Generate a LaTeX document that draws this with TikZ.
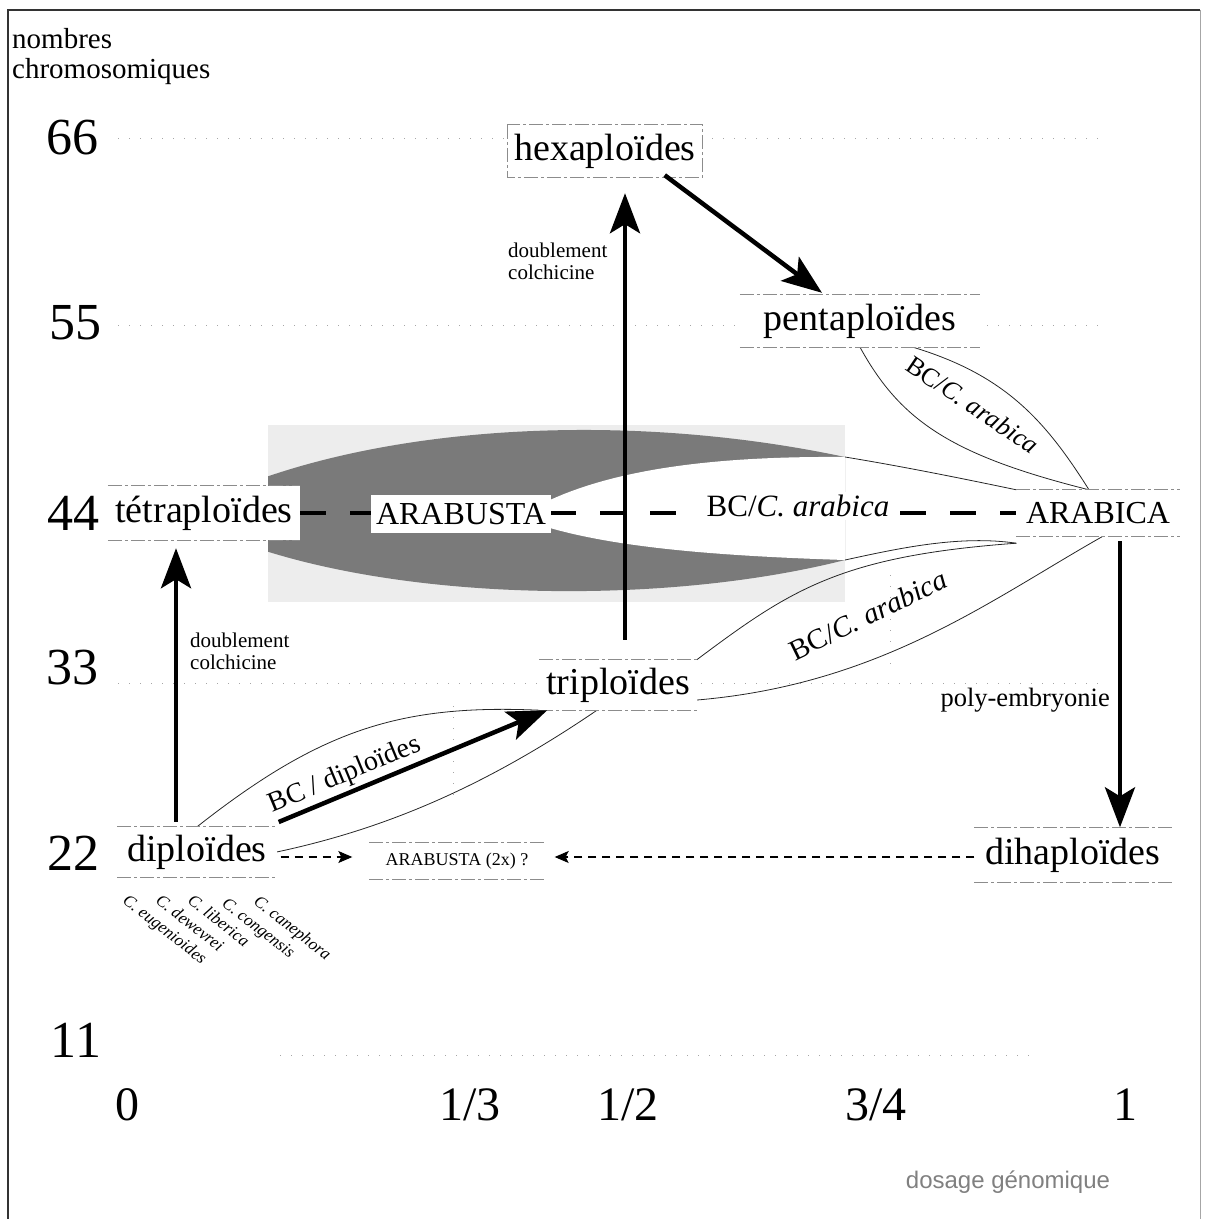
\documentclass[tikz,border=0pt]{standalone}
\usepackage{fontspec}
\setmainfont{Liberation Serif}
\newfontfamily\captionsans{Liberation Sans}
\usetikzlibrary{arrows.meta,backgrounds}
\begin{document}
\begin{tikzpicture}[x=1pt,y=-1pt,
  axisnum/.style={font=\fontsize{52}{58}\selectfont, inner sep=0pt},
  dosenum/.style={font=\fontsize{48}{54}\selectfont, inner sep=0pt},
  stagefont/.style={font=\fontsize{38}{44}\selectfont},
  capsfont/.style={font=\fontsize{32}{38}\selectfont},
  stagebox/.style={fill=white, inner sep=0pt},
  boxline/.style={draw=black!45, line width=0.8pt, dash pattern=on 14pt off 3pt on 3pt off 3pt},
  note/.style={font=\fontsize{21}{22}\selectfont, align=left, inner sep=0pt},
  species/.style={font=\fontsize{17}{18}\selectfont\itshape, inner sep=0pt, anchor=north west, rotate=-38},
  bigarrow/.style={line width=4.5pt, -{Stealth[length=40pt,width=30pt,inset=9pt]}},
  thinarrow/.style={line width=1.1pt, dash pattern=on 8pt off 6pt, -{Stealth[length=14pt,width=12pt,inset=3pt]}},
  lensline/.style={line width=0.8pt, black!85},
  gridline/.style={black!35, line width=0.9pt, dash pattern=on 1pt off 10pt},
  frameline/.style={black!80, line width=1.3pt},
]
\useasboundingbox (0,0) rectangle (1205,1219);

% outer frame
\draw[frameline] (8,1219) -- (8,10) -- (1200,10);
\draw[black!35, line width=0.8pt] (1200,10) -- (1200,1219);

% axis titles
\node[font=\fontsize{29}{30}\selectfont, align=left, anchor=north west, inner sep=0pt] (ytitle) at (12,28) {nombres\\chromosomiques};
\node[font={\captionsans\fontsize{24}{26}\selectfont}, text=black!50] (xtitle) at (1008,1182) {dosage génomique};

% chromosome numbers
\node[axisnum] (y66) at (72,138) {66};
\node[axisnum] (y55) at (75,323) {55};
\node[axisnum] (y44) at (73,513) {44};
\node[axisnum] (y33) at (72,668) {33};
\node[axisnum] (y22) at (73,853) {22};
\node[axisnum] (y11) at (76,1040) {11};

% genomic dosage
\node[dosenum] (x0) at (127,1105) {0};
\node[dosenum] (x13) at (470,1105) {1/3};
\node[dosenum] (x12) at (628,1105) {1/2};
\node[dosenum] (x34) at (876,1105) {3/4};
\node[dosenum] (x1) at (1125,1105) {1};

% ploidy levels
\node[stagebox, stagefont, minimum width=195pt, minimum height=52pt] (hexa) at (605,151) {hexaploïdes};
\node[stagebox, stagefont, minimum width=240pt, minimum height=52pt] (penta) at (860,321) {pentaploïdes};
\node[stagebox, stagefont, minimum width=192pt, minimum height=54pt] (tetra) at (204,513) {tétraploïdes};
\node[stagebox, capsfont, minimum width=180pt, minimum height=38pt] (arabusta) at (461,514) {ARABUSTA};
\node[stagebox, capsfont, minimum width=163pt, minimum height=46pt] (arabica) at (1098,513) {ARABICA};
\node[stagebox, stagefont, minimum width=157pt, minimum height=50pt] (tri) at (618,685) {triploïdes};
\node[stagebox, stagefont, minimum width=159pt, minimum height=50pt] (di) at (197,852) {diploïdes};
\node[stagebox, font=\fontsize{18}{20}\selectfont, minimum width=175pt, minimum height=37pt] (arab2x) at (457,861) {ARABUSTA (2x) ?};
\node[stagebox, stagefont, minimum width=197pt, minimum height=55pt] (dihap) at (1073,855) {dihaploïdes};
\node[fill=white, inner xsep=9pt, inner ysep=3pt, font=\fontsize{31}{34}\selectfont] (bcmid) at (798,506) {BC/\textit{C. arabica}};

% box edges
\foreach \n in {penta,tetra,arabica,tri,di,arab2x,dihap}
  \draw[boxline] (\n.north west) -- (\n.north east) (\n.south west) -- (\n.south east);
\draw[boxline] (hexa.north west) rectangle (hexa.south east);

% diploid species
\node[species] (sp1) at (129,893) {C. eugenioides};
\node[species] (sp2) at (162,893) {C. dewevrei};
\node[species] (sp3) at (194,893) {C. liberica};
\node[species] (sp4) at (228,896) {C. congensis};
\node[species] (sp5) at (260,894) {C. canephora};

% process labels
\node[note, anchor=west] (dc1) at (190,651) {doublement\\colchicine};
\node[note, anchor=west] (dc2) at (508,261) {doublement\\colchicine};
\node[font=\fontsize{26.5}{28}\selectfont, inner sep=0pt, anchor=east] (poly) at (1110,700) {poly-embryonie};
\node[font=\fontsize{26}{28}\selectfont, inner sep=1pt, rotate=-34] (bcpenta) at (973,405) {BC/\textit{C. arabica}};
\node[font=\fontsize{29}{32}\selectfont, inner sep=1pt, rotate=26] (bctri) at (868,615) {BC/\textit{C. arabica}};
\node[font=\fontsize{28}{32}\selectfont, inner sep=1pt, rotate=22.5] (bcdi) at (345,775) {BC / diploïdes};

\begin{pgfonlayer}{background}
  % dotted reference grid
  \foreach \yy in {138,325,683} \draw[gridline] (118,\yy) -- (1100,\yy);
  \draw[gridline] (280,1055) -- (1030,1055);
  \draw[gridline] (453,706) -- (453,800);
  \draw[gridline] (890,575) -- (890,668);

  % backcross field between tetraploids and ARABICA
  \fill[black!7] (268,425) rectangle (845,602);
  \begin{scope}
    \clip (268,425) rectangle (845,602);
    \fill[black!52] (180,515) .. controls (330,430) and (600,405) .. (845,457)
      -- (845,560) .. controls (640,612) and (330,600) .. (180,515) -- cycle;
    \fill[white] (550,500) .. controls (620,468) and (720,456) .. (845,457)
      -- (845,560) .. controls (720,556) and (620,548) .. (550,528) -- cycle;
  \end{scope}
  \draw[lensline] (845,457) .. controls (900,466) and (960,478) .. (arabica.north west);
  \draw[lensline] (845,560) .. controls (900,548) and (960,535) .. ([yshift=-7pt]arabica.south west);

  % backcross lenses
  \draw[lensline] (penta.south) .. controls (900,420) and (950,455) .. ([xshift=-9pt]arabica.north);
  \draw[lensline] ([xshift=53pt]penta.south) .. controls (1005,375) and (1045,420) .. ([xshift=-9pt]arabica.north);
  \draw[lensline] (tri.north east) .. controls (790,590) and (840,556) .. ([yshift=-7pt]arabica.south west);
  \draw[lensline] ([xshift=-2pt,yshift=10pt]tri.south east) .. controls (880,685) and (990,600) .. ([xshift=5pt]arabica.south);
  \draw[lensline] (di.north) .. controls (320,730) and (400,704) .. (tri.south west);
  \draw[lensline] (di.east) .. controls (380,830) and (480,790) .. ([xshift=-21pt]tri.south);

  % tetraploid to ARABICA axis
  \draw[line width=4.5pt, dash pattern=on 26pt off 24pt] (tetra.east) -- (arabica.west);
\end{pgfonlayer}

% main transitions
\draw[bigarrow] ([xshift=-21pt,yshift=5pt]di.north) -- ([xshift=-28pt,yshift=-8pt]tetra.south);
\draw[bigarrow] ([xshift=7pt,yshift=20pt]tri.north) -- ([xshift=20pt,yshift=-16pt]hexa.south);
\draw[bigarrow] ([xshift=-38pt,yshift=2pt]hexa.south east) -- ([xshift=-38pt,yshift=2pt]penta.north);
\draw[bigarrow] ([xshift=2pt,yshift=30pt]di.east) -- ([xshift=8pt]tri.south west);
\draw[bigarrow] ([xshift=22pt,yshift=-5pt]arabica.south) -- ([xshift=47pt]dihap.north);

% hypothetical diploid ARABUSTA
\draw[thinarrow] ([xshift=4pt,yshift=-5pt]di.east) -- ([xshift=-17pt,yshift=4pt]arab2x.west);
\draw[thinarrow] ([yshift=-2pt]dihap.west) -- ([xshift=10pt,yshift=4pt]arab2x.east);
\end{tikzpicture}
\end{document}
